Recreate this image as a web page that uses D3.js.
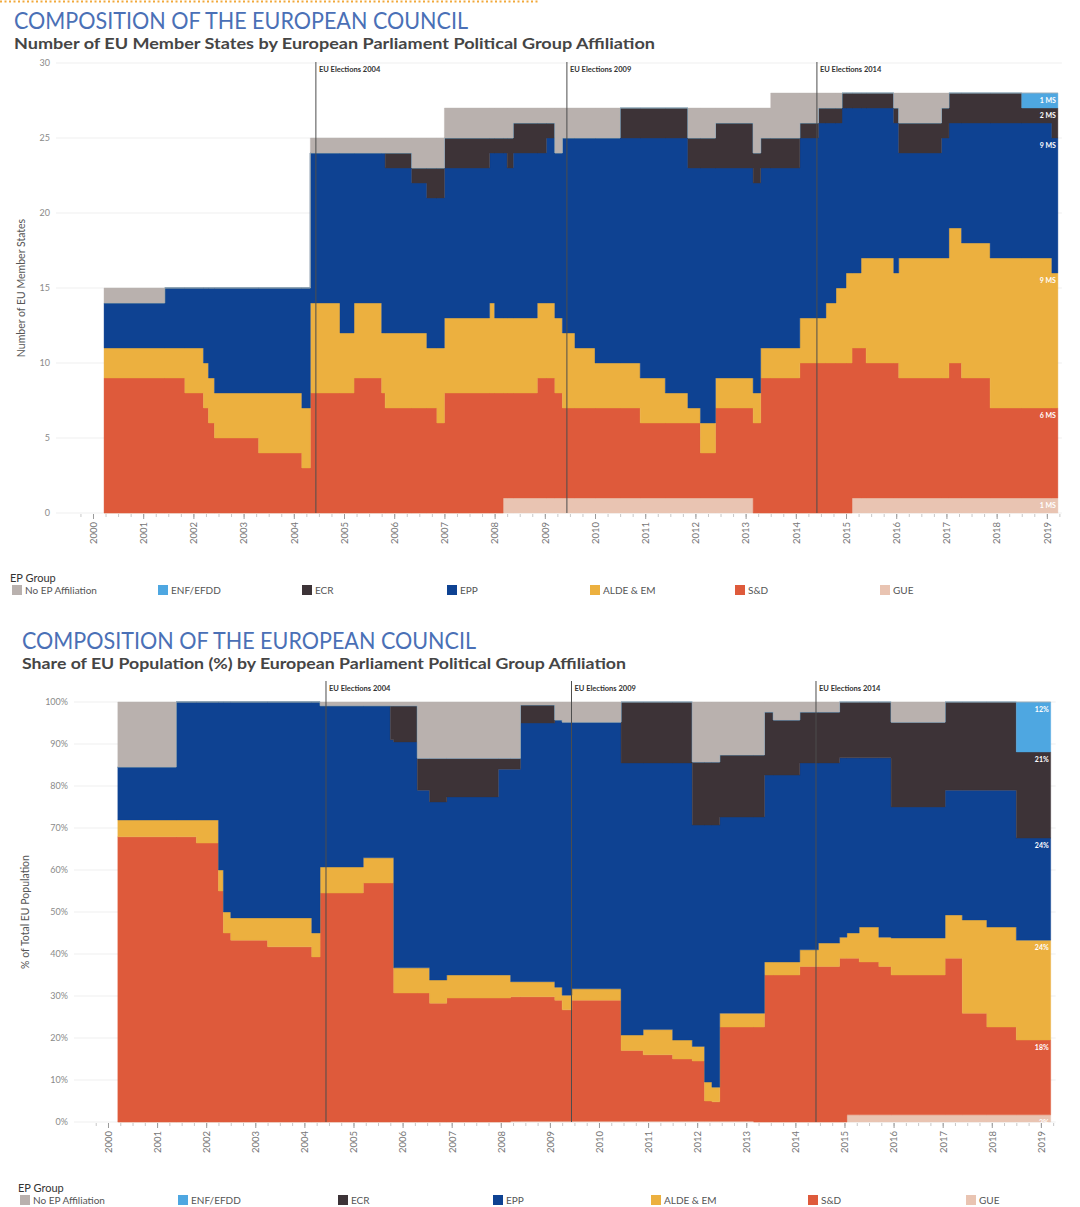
<!DOCTYPE html>
<html>
<head>
<meta charset="utf-8">
<script src="https://cdn.jsdelivr.net/npm/d3@7"></script>
<style>
  body { margin: 0; background: #fff; }
  svg { display: block; }
</style>
</head>
<body>
<svg id="chart" width="1080" height="1207"></svg>
<script>
// ---- groups, stacked bottom -> top ----
const stackKeys = ['gue', 'snd', 'alde', 'epp', 'ecr', 'enf', 'noep'];
const legendKeys = ['noep', 'enf', 'ecr', 'epp', 'alde', 'snd', 'gue'];
const groupNames = {
  noep: 'No EP Affiliation', enf: 'ENF/EFDD', ecr: 'ECR', epp: 'EPP',
  alde: 'ALDE & EM', snd: 'S&D', gue: 'GUE'
};
const groupColors = {
  noep: '#b9b1ae', enf: '#4ea7e1', ecr: '#3d3337', epp: '#0e4292',
  alde: '#ecb03f', snd: '#de5a3b', gue: '#e9c4b2'
};

const years = d3.range(2000, 2020);
const elections = [2004.44, 2009.44, 2014.42];
const electionLabels = ['EU Elections 2004', 'EU Elections 2009', 'EU Elections 2014'];

// ---- chart 1: number of member states (change dates, decimal years) ----
const msDates = [2000.22, 2001.43, 2001.83, 2002.2, 2002.3, 2002.42, 2003.3, 2004.16, 2004.33, 2004.92,
  2005.2, 2005.75, 2005.82, 2006.35, 2006.65, 2006.85, 2007.0, 2007.9, 2008.0, 2008.17,
  2008.25, 2008.37, 2008.85, 2009.03, 2009.2, 2009.35, 2009.6, 2010.0, 2010.5, 2010.9,
  2011.4, 2011.85, 2012.1, 2012.4, 2013.15, 2013.3, 2013.5, 2014.08, 2014.45, 2014.6,
  2014.8, 2014.92, 2015.0, 2015.12, 2015.3, 2015.4, 2015.95, 2016.05, 2016.9, 2017.05,
  2017.3, 2017.87, 2018.5, 2019.1, 2019.22];
const msGUE = [0, 0, 0, 0, 0, 0, 0, 0, 0, 0, 0, 0, 0, 0, 0, 0, 0, 0, 0, 1,
  1, 1, 1, 1, 1, 1, 1, 1, 1, 1, 1, 1, 1, 1, 0, 0, 0, 0, 0, 0,
  0, 0, 0, 1, 1, 1, 1, 1, 1, 1, 1, 1, 1, 1, 1];
const msSD = [9, 9, 8, 7, 6, 5, 4, 3, 8, 8, 9, 8, 7, 7, 7, 6, 8, 8, 8, 7,
  7, 7, 8, 8, 7, 6, 6, 6, 6, 5, 5, 5, 3, 6, 6, 9, 9, 10, 10, 10,
  10, 10, 10, 10, 10, 9, 9, 8, 8, 9, 8, 6, 6, 6, 6];
const msALDE = [2, 2, 3, 3, 3, 3, 4, 4, 6, 4, 5, 4, 5, 5, 4, 5, 5, 6, 5, 5,
  5, 5, 5, 5, 5, 5, 4, 3, 3, 3, 2, 1, 2, 2, 2, 2, 2, 3, 3, 4,
  5, 5, 6, 5, 6, 7, 6, 8, 8, 9, 9, 10, 10, 9, 9];
const msEPP = [3, 4, 4, 5, 6, 7, 7, 8, 10, 12, 10, 12, 11, 10, 10, 10, 10, 10, 11, 11,
  10, 11, 10, 11, 11, 13, 14, 15, 15, 16, 17, 16, 17, 14, 14, 12, 12, 12, 13, 12,
  11, 12, 11, 11, 10, 10, 10, 7, 8, 7, 8, 9, 9, 9, 9];
const msECR = [0, 0, 0, 0, 0, 0, 0, 0, 0, 0, 0, 0, 1, 1, 2, 2, 2, 1, 1, 1,
  2, 2, 2, 1, 0, 0, 0, 0, 2, 2, 2, 2, 2, 3, 2, 2, 2, 1, 1, 1,
  1, 1, 1, 1, 1, 1, 1, 2, 2, 2, 2, 2, 1, 2, 2];
const msENF = [0, 0, 0, 0, 0, 0, 0, 0, 0, 0, 0, 0, 0, 0, 0, 0, 0, 0, 0, 0,
  0, 0, 0, 0, 0, 0, 0, 0, 0, 0, 0, 0, 0, 0, 0, 0, 0, 0, 0, 0,
  0, 0, 0, 0, 0, 0, 0, 0, 0, 0, 0, 0, 1, 1, 1];
const msNoEP = [1, 0, 0, 0, 0, 0, 0, 0, 1, 1, 1, 1, 1, 2, 2, 2, 2, 2, 2, 2,
  2, 1, 1, 1, 3, 2, 2, 2, 0, 0, 0, 2, 2, 1, 3, 2, 3, 2, 1, 1,
  1, 0, 0, 0, 0, 0, 1, 2, 1, 0, 0, 0, 0, 0, 0];
const msTicks = [0, 5, 10, 15, 20, 25, 30];

// ---- chart 2: share of EU population (%) ----
const popDates = [2000.2, 2001.39, 2001.8, 2002.25, 2002.35, 2002.5, 2003.25, 2004.15, 2004.32, 2005.2,
  2005.75, 2005.82, 2006.3, 2006.55, 2006.9, 2007.95, 2008.2, 2008.4, 2009.1, 2009.25,
  2009.45, 2010.45, 2010.9, 2011.5, 2011.9, 2012.15, 2012.3, 2012.46, 2013.15, 2013.37,
  2013.55, 2014.09, 2014.47, 2014.9, 2015.05, 2015.3, 2015.7, 2015.95, 2017.05, 2017.4,
  2017.9, 2018.5, 2019.2];
const popGUE = [0, 0, 0, 0, 0, 0, 0, 0, 0, 0, 0, 0, 0, 0, 0, 0, 0.2, 0.2, 0.2, 0.2,
  0.2, 0.2, 0.2, 0.2, 0.2, 0.2, 0.2, 0.2, 0, 0, 0, 0, 0, 0, 1.7, 1.7, 1.7, 1.7, 1.7, 1.7,
  1.7, 1.7, 1.7];
const popSD = [67.9, 67.9, 66.4, 55.0, 45.0, 43.3, 41.7, 39.3, 54.5, 56.9, 56.9, 30.7, 30.7, 28.3, 29.5,
  29.5, 29.6, 29.6, 28.8, 26.5, 28.8, 16.8, 15.8, 14.8, 14.3, 4.8, 4.6, 22.4, 22.6, 35.0,
  35.0, 37.0, 37.0, 39.0, 37.3, 36.4, 35.3, 33.3, 37.3, 24.2, 20.9, 17.8, 17.8];
const popALDE = [4.0, 4.0, 5.5, 5.0, 5.0, 5.3, 6.9, 5.7, 6.2, 6.0, 6.0, 6.0, 6.0, 5.5, 5.5,
  5.5, 3.6, 3.6, 3.1, 3.5, 2.7, 3.7, 6.0, 4.5, 3.5, 4.5, 3.5, 3.3, 3.3, 3.1,
  3.1, 4.0, 5.6, 5.0, 6.0, 8.3, 7.0, 8.8, 10.3, 22.2, 23.8, 23.8, 23.8];
const popEPP = [12.6, 28.1, 28.1, 40.0, 50.0, 51.4, 51.4, 55.0, 38.4, 36.2, 28.1, 53.8, 42.3, 42.4, 42.4,
  49.0, 50.6, 61.6, 63.6, 65.0, 63.5, 64.8, 63.5, 66.0, 52.7, 61.2, 62.4, 46.7, 46.7, 44.5,
  44.5, 44.5, 42.9, 42.7, 41.7, 40.3, 42.7, 31.2, 29.7, 30.9, 32.6, 24.3, 24.3];
const popECR = [0, 0, 0, 0, 0, 0, 0, 0, 0, 0, 8.1, 8.6, 7.6, 10.4, 9.2, 2.6, 2.6, 4.3, 0, 0,
  0, 14.5, 14.5, 14.5, 15.0, 15.0, 15.0, 14.8, 14.8, 15.0, 13.1, 12.1, 12.1, 13.3, 13.3, 13.3,
  13.3, 20.2, 21.0, 21.0, 21.0, 20.5, 20.5];
const popENF = [0, 0, 0, 0, 0, 0, 0, 0, 0, 0, 0, 0, 0, 0, 0, 0, 0, 0, 0, 0,
  0, 0, 0, 0, 0, 0, 0, 0, 0, 0, 0, 0, 0, 0, 0, 0, 0, 0, 0, 0,
  0, 11.9, 11.9];
const popNoEP = [15.5, 0, 0, 0, 0, 0, 0, 0, 0.9, 0.9, 0.9, 0.9, 13.4, 13.4, 13.4, 13.4, 13.4, 0.7, 4.3, 4.8,
  4.8, 0, 0, 0, 14.3, 14.3, 14.3, 12.6, 12.6, 2.4, 4.3, 2.4, 2.4, 0, 0, 0, 0, 4.8, 0, 0,
  0, 0, 0];
const popTicks = [0, 10, 20, 30, 40, 50, 60, 70, 80, 90, 100];

const svg = d3.select('#chart');
const font = 'Lato, "Open Sans", sans-serif';

// orange dotted rule at the very top
svg.append('line')
  .attr('x1', 0).attr('x2', 540).attr('y1', 1.5).attr('y2', 1.5)
  .attr('stroke', '#f2a93b').attr('stroke-width', 2).attr('stroke-dasharray', '2,2.5');

function drawChart(cfg) {
  const g = svg.append('g');
  const series = cfg.series;
  const rows = cfg.dates.map((t, i) => {
    const r = { t: t };
    stackKeys.forEach(k => { r[k] = series[k][i]; });
    return r;
  });
  const layers = d3.stack().keys(stackKeys)(rows);

  const x = d3.scaleLinear().domain([1999.55, 2019.3]).range(cfg.xRange);
  const y = d3.scaleLinear().domain(cfg.yDomain).range(cfg.yRange);

  // titles
  g.append('text')
    .attr('x', cfg.titleX).attr('y', cfg.titleY)
    .attr('font-family', font).attr('font-size', 23).attr('fill', '#4a70b6')
    .attr('textLength', 454).attr('lengthAdjust', 'spacingAndGlyphs')
    .text('COMPOSITION OF THE EUROPEAN COUNCIL');
  g.append('text')
    .attr('x', cfg.titleX).attr('y', cfg.titleY + 20)
    .attr('font-family', font).attr('font-size', 14.5).attr('font-weight', 'bold').attr('fill', '#454545')
    .attr('textLength', cfg.subtitleLen).attr('lengthAdjust', 'spacingAndGlyphs')
    .text(cfg.subtitle);

  // horizontal grid
  g.append('g').selectAll('line').data(cfg.ticks).join('line')
    .attr('x1', cfg.gridX0).attr('x2', cfg.xRange[1])
    .attr('y1', d => y(d)).attr('y2', d => y(d))
    .attr('stroke', '#efefef').attr('stroke-width', 1);

  // stacked areas
  const area = d3.area()
    .curve(d3.curveStepAfter)
    .x(d => x(d.data.t))
    .y0(d => y(d[0]))
    .y1(d => y(d[1]));
  g.append('g').selectAll('path').data(layers).join('path')
    .attr('fill', d => groupColors[d.key])
    .attr('stroke', d => groupColors[d.key]).attr('stroke-width', 0.4)
    .attr('d', area);

  // end-of-period labels
  const last = layers.map(l => l[l.length - 1]);
  g.append('g').selectAll('text').data(last.filter(d => d[1] - d[0] > 0)).join('text')
    .attr('x', x(cfg.dates[cfg.dates.length - 1]) - 2)
    .attr('y', d => y(d[1]) + cfg.endLabelDy)
    .attr('text-anchor', 'end')
    .attr('font-family', font).attr('font-size', 7).attr('font-weight', 'bold').attr('fill', '#fff')
    .text(d => cfg.endFormat(d[1] - d[0]));

  // election lines
  const el = g.append('g').selectAll('g').data(elections).join('g');
  el.append('line')
    .attr('x1', d => x(d)).attr('x2', d => x(d))
    .attr('y1', cfg.electionTop).attr('y2', cfg.yRange[0])
    .attr('stroke', '#4d4d4d').attr('stroke-width', 1);
  el.append('text')
    .attr('x', d => x(d) + 3).attr('y', cfg.electionLabelY)
    .attr('font-family', font).attr('font-size', 7.5).attr('font-weight', 'bold').attr('fill', '#333')
    .text((d, i) => electionLabels[i]);

  // y axis
  const yAxis = g.append('g')
    .attr('transform', `translate(${cfg.yLabelX},0)`)
    .call(d3.axisLeft(y).tickValues(cfg.ticks).tickSize(0).tickPadding(0).tickFormat(cfg.tickFormat));
  yAxis.select('.domain').remove();
  yAxis.selectAll('text').attr('font-family', font).attr('font-size', 9).attr('fill', '#8a8a8a');

  g.append('text')
    .attr('transform', `translate(${cfg.yTitleX},${(cfg.yRange[0] + cfg.yRange[1]) / 2}) rotate(-90)`)
    .attr('text-anchor', 'middle')
    .attr('font-family', font).attr('font-size', 10.5).attr('fill', '#555')
    .text(cfg.yTitle);

  // x axis: quarterly minor ticks + yearly labels
  const base = cfg.yRange[0];
  const quarters = d3.range(1999.75, 2019.3, 0.25);
  g.append('g')
    .attr('transform', `translate(0,${base + 1})`)
    .call(d3.axisBottom(x).tickValues(quarters).tickSize(3).tickFormat(''))
    .call(a => a.select('.domain').remove())
    .call(a => a.selectAll('line').attr('stroke', '#c8c8c8'));
  const xAxis = g.append('g')
    .attr('transform', `translate(0,${base + 1})`)
    .call(d3.axisBottom(x).tickValues(years).tickSize(5).tickFormat(d3.format('d')));
  xAxis.select('.domain').remove();
  xAxis.selectAll('line').attr('stroke', '#9a9a9a');
  xAxis.selectAll('text')
    .attr('transform', 'rotate(-90)')
    .attr('text-anchor', 'end')
    .attr('x', -8).attr('y', 0).attr('dy', '0.35em')
    .attr('font-family', font).attr('font-size', 9.5).attr('fill', '#777');

  // legend
  g.append('text')
    .attr('x', cfg.legendX[0] - 2).attr('y', cfg.legendY - 12)
    .attr('font-family', font).attr('font-size', 11).attr('fill', '#333')
    .text('EP Group');
  const lg = g.append('g').selectAll('g').data(legendKeys).join('g')
    .attr('transform', (d, i) => `translate(${cfg.legendX[i]},${cfg.legendY})`);
  lg.append('rect').attr('x', 0).attr('y', -9).attr('width', 10).attr('height', 10)
    .attr('fill', d => groupColors[d]);
  lg.append('text').attr('x', 13).attr('y', 0)
    .attr('font-family', font).attr('font-size', 10).attr('fill', '#555')
    .text(d => groupNames[d]);
}

drawChart({
  dates: msDates,
  series: { gue: msGUE, snd: msSD, alde: msALDE, epp: msEPP, ecr: msECR, enf: msENF, noep: msNoEP },
  ticks: msTicks,
  tickFormat: d3.format('d'),
  endFormat: v => v + ' MS',
  endLabelDy: 10,
  yDomain: [0, 30], yRange: [513, 63],
  xRange: [70.4, 1061.9],
  gridX0: 56,
  electionTop: 62, electionLabelY: 72,
  titleX: 14, titleY: 29,
  subtitle: 'Number of EU Member States by European Parliament Political Group Affiliation',
  subtitleLen: 641,
  yLabelX: 50, yTitleX: 25,
  yTitle: 'Number of EU Member States',
  legendX: [12, 158, 302, 447, 590, 735, 880], legendY: 594
});

drawChart({
  dates: popDates,
  series: { gue: popGUE, snd: popSD, alde: popALDE, epp: popEPP, ecr: popECR, enf: popENF, noep: popNoEP },
  ticks: popTicks,
  tickFormat: d => d + '%',
  endFormat: v => Math.round(v) + '%',
  endLabelDy: 10,
  yDomain: [0, 100], yRange: [1122, 702],
  xRange: [85.9, 1055.6],
  gridX0: 74,
  electionTop: 681, electionLabelY: 691,
  titleX: 22, titleY: 649,
  subtitle: 'Share of EU Population (%) by European Parliament Political Group Affiliation',
  subtitleLen: 604,
  yLabelX: 68, yTitleX: 29,
  yTitle: '% of Total EU Population',
  legendX: [20, 178, 338, 493, 651, 808, 966], legendY: 1204
});
</script>
</body>
</html>
